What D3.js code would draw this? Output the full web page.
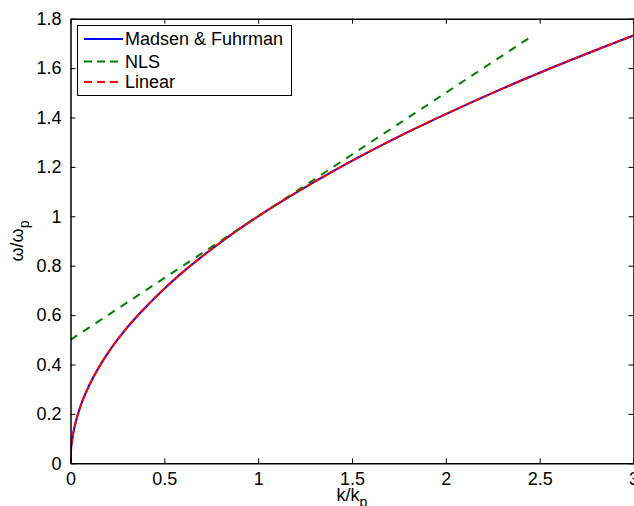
<!DOCTYPE html>
<html>
<head>
<meta charset="utf-8">
<script src="https://cdn.jsdelivr.net/npm/d3@7"></script>
<style>
  html, body { margin: 0; padding: 0; background: #fff; }
  svg { display: block; }
  text { font-family: "Liberation Sans", Arial, Helvetica, sans-serif; fill: #000; }
</style>
</head>
<body>
<svg id="chart" width="634" height="506"></svg>
<script>
// ---- data ----
const kValues = [0, 0.002, 0.01, 0.025, 0.05, 0.1, 0.15, 0.2, 0.3, 0.4, 0.5, 0.6, 0.75, 0.9, 1.0, 1.2, 1.4, 1.6, 1.8, 2.0, 2.25, 2.5, 2.75, 3.0];
const madsenFuhrman = [0, 0.045, 0.10, 0.158, 0.224, 0.316, 0.387, 0.447, 0.548, 0.632, 0.707, 0.775, 0.866, 0.949, 1.0, 1.095, 1.183, 1.265, 1.342, 1.414, 1.5, 1.581, 1.658, 1.732];
const linearValues  = [0, 0.045, 0.10, 0.158, 0.224, 0.316, 0.387, 0.447, 0.548, 0.632, 0.707, 0.775, 0.866, 0.949, 1.0, 1.095, 1.183, 1.265, 1.342, 1.414, 1.5, 1.581, 1.658, 1.732];
const nlsK = [0, 2.464];
const nlsValues = [0.5, 1.732];
const xTicks = [0, 0.5, 1, 1.5, 2, 2.5, 3];
const yTicks = [0, 0.2, 0.4, 0.6, 0.8, 1, 1.2, 1.4, 1.6, 1.8];
const seriesNames = ["Madsen & Fuhrman", "NLS", "Linear"];

// ---- layout ----
const svg = d3.select("#chart");
const pLeft = 70.5, pRight = 633.5, pTop = 18.7, pBottom = 463.3;
const x = d3.scaleLinear().domain([0, 3]).range([pLeft, pRight]);
const y = d3.scaleLinear().domain([0, 1.8]).range([pBottom, pTop]);
const font = 18;

const line = d3.line().x(d => x(d[0])).y(d => y(d[1])).curve(d3.curveMonotoneX);

const plot = svg.append("g");
plot.append("defs").append("clipPath").attr("id", "clip")
  .append("rect").attr("x", pLeft).attr("y", pTop).attr("width", pRight - pLeft).attr("height", pBottom - pTop);

const lines = plot.append("g").attr("clip-path", "url(#clip)");
lines.append("path")
  .attr("d", line(kValues.map((k, i) => [k, madsenFuhrman[i]])))
  .attr("fill", "none").attr("stroke", "#0000ff").attr("stroke-width", 2);
lines.append("path")
  .attr("d", line(nlsK.map((k, i) => [k, nlsValues[i]])))
  .attr("fill", "none").attr("stroke", "#008000").attr("stroke-width", 2)
  .attr("stroke-dasharray", "8,7");
lines.append("path")
  .attr("d", line(kValues.map((k, i) => [k, linearValues[i]])))
  .attr("fill", "none").attr("stroke", "#ff0000").attr("stroke-width", 2)
  .attr("stroke-dasharray", "7,2");

// ---- axes (box with inward ticks, MATLAB style) ----
const tickLen = 5;
const axB = svg.append("g").attr("transform", `translate(0,${pBottom})`)
  .call(d3.axisBottom(x).tickValues(xTicks).tickSizeInner(-tickLen).tickSizeOuter(0).tickPadding(9)
    .tickFormat(d3.format("~g")));
const axT = svg.append("g").attr("transform", `translate(0,${pTop})`)
  .call(d3.axisTop(x).tickValues(xTicks).tickSizeInner(-tickLen).tickSizeOuter(0).tickFormat(""));
const axL = svg.append("g").attr("transform", `translate(${pLeft},0)`)
  .call(d3.axisLeft(y).tickValues(yTicks).tickSizeInner(-tickLen).tickSizeOuter(0).tickPadding(9)
    .tickFormat(d3.format("~g")));
const axR = svg.append("g").attr("transform", `translate(${pRight},0)`)
  .call(d3.axisRight(y).tickValues(yTicks).tickSizeInner(-tickLen).tickSizeOuter(0).tickFormat(""));

[axB, axT, axL, axR].forEach(g => {
  g.select(".domain").attr("stroke", "#000").attr("stroke-width", 1.5);
  g.selectAll(".tick line").attr("stroke", "#000").attr("stroke-width", 1);
  g.selectAll(".tick text").attr("font-size", font).attr("font-family", "Liberation Sans, Arial, sans-serif").attr("fill", "#000");
});
axB.selectAll(".tick text").attr("dy", "0.71em").attr("y", 9);

// ---- axis labels ----
const xl = svg.append("text").attr("x", (pLeft + pRight) / 2).attr("y", 501)
  .attr("text-anchor", "middle").attr("font-size", font);
xl.append("tspan").text("k/k");
xl.append("tspan").attr("font-size", 14).attr("dy", 6).text("p");

const yl = svg.append("text")
  .attr("transform", `translate(23,${(pTop + pBottom) / 2}) rotate(-90)`)
  .attr("text-anchor", "middle").attr("font-size", font);
yl.append("tspan").text("ω/ω");
yl.append("tspan").attr("font-size", 14).attr("dy", 6).text("p");

// ---- legend ----
const legend = svg.append("g");
legend.append("rect").attr("x", 77.5).attr("y", 25.5).attr("width", 214).attr("height", 70)
  .attr("fill", "#fff").attr("stroke", "#000").attr("stroke-width", 1);
const legendStyles = [
  { color: "#0000ff", dash: null },
  { color: "#008000", dash: "8,5" },
  { color: "#ff0000", dash: "8,5" }
];
const rowY = [39, 61.5, 82];
seriesNames.forEach((name, i) => {
  const l = legend.append("line").attr("x1", 84).attr("x2", 123).attr("y1", rowY[i]).attr("y2", rowY[i])
    .attr("stroke", legendStyles[i].color).attr("stroke-width", 2);
  if (legendStyles[i].dash) l.attr("stroke-dasharray", legendStyles[i].dash);
  legend.append("text").attr("x", 125).attr("y", rowY[i]).attr("dy", "0.35em")
    .attr("font-size", font).text(name);
});
</script>
</body>
</html>
